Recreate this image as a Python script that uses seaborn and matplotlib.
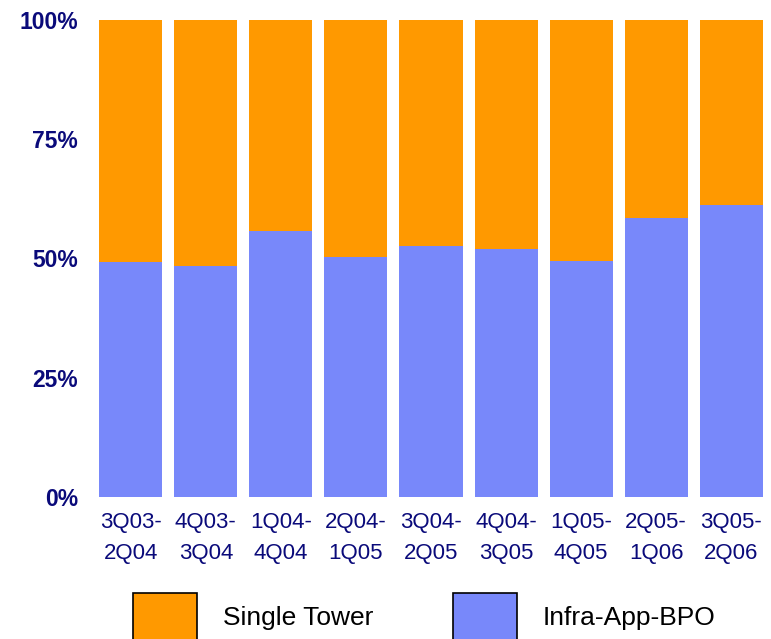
import matplotlib
matplotlib.use("Agg")
import matplotlib.pyplot as plt
from matplotlib.patches import Patch
import seaborn as sns
import pandas as pd

periods = ["3Q03-\n2Q04", "4Q03-\n3Q04", "1Q04-\n4Q04", "2Q04-\n1Q05", "3Q04-\n2Q05",
           "4Q04-\n3Q05", "1Q05-\n4Q05", "2Q05-\n1Q06", "3Q05-\n2Q06"]
infra_app_bpo = [49.3, 48.4, 55.8, 50.3, 52.6, 51.9, 49.5, 58.5, 61.2]
single_tower = [50.7, 51.6, 44.2, 49.7, 47.4, 48.1, 50.5, 41.5, 38.8]
y_ticks = [0, 25, 50, 75, 100]
y_tick_labels = ["0%", "25%", "50%", "75%", "100%"]

ORANGE = "#FF9900"
BLUE = "#7888FA"
NAVY = "#0A0A7A"

sns.set_theme(style="white")
plt.rcParams["font.family"] = ["Liberation Sans", "DejaVu Sans"]

df = pd.DataFrame({"period": periods, "infra": infra_app_bpo, "single": single_tower})

fig = plt.figure(figsize=(7.71, 6.39), dpi=100)
ax = fig.add_axes([0.121, 0.222, 0.876, 0.747])

sns.barplot(data=df, x="period", y="infra", color=BLUE, width=0.84,
            saturation=1, ax=ax)
xpos = ax.get_xticks()
ax.bar(xpos, df["single"], bottom=df["infra"], width=0.84, color=ORANGE,
       linewidth=0)
for p in ax.patches:
    p.set_linewidth(0)

ax.set_xlim(-0.5, len(periods) - 0.5)
ax.set_ylim(0, 100)
ax.set_yticks(y_ticks)
ax.set_yticklabels(y_tick_labels, fontsize=16.5, fontweight="bold", color=NAVY)
ax.set_xticks(xpos)
ax.set_xticklabels(periods, fontsize=16, color=NAVY, linespacing=1.6)
ax.tick_params(axis="y", length=0, pad=11)
ax.tick_params(axis="x", length=0, pad=11)
ax.set_xlabel("")
ax.set_ylabel("")
sns.despine(ax=ax, left=True, bottom=True)

handles = [Patch(facecolor=ORANGE, edgecolor="black", linewidth=1.2, label="Single Tower"),
           Patch(facecolor=BLUE, edgecolor="black", linewidth=1.2, label="Infra-App-BPO")]
fig.legend(handles=handles, loc="upper left", bbox_to_anchor=(0.1725, 0.072),
           ncol=2, frameon=False, fontsize=19, labelcolor="black",
           handlelength=2.42, handleheight=2.42,
           handletextpad=1.0, columnspacing=3.0, borderpad=0, borderaxespad=0)

fig.savefig("out.png", dpi=100)
